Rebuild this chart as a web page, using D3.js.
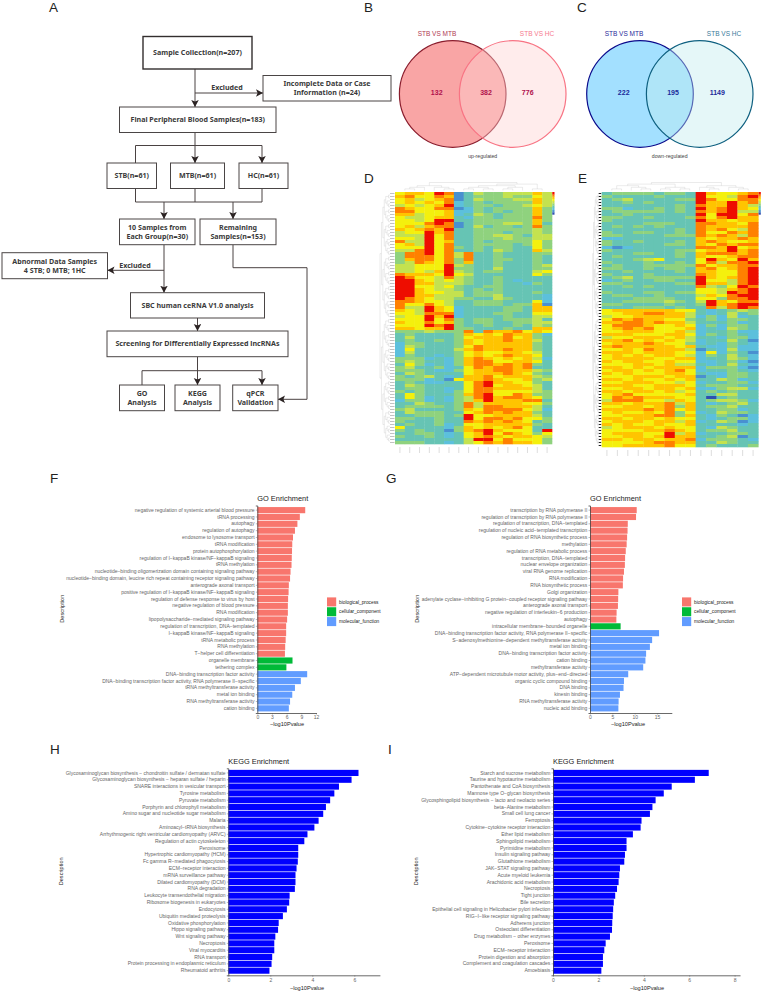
<!DOCTYPE html>
<html><head><meta charset="utf-8">
<script src="https://cdn.jsdelivr.net/npm/d3@7"></script>
<style>html,body{margin:0;padding:0;background:#fff}svg{display:block}</style>
</head><body><svg id="c" width="764" height="992" viewBox="0 0 764 992"></svg>
<script>
// ---------- data ----------
const flowLabels = [
 ["Sample Collection(n=207)"],["Incomplete Data or Case","Information  (n=24)"],["Final Peripheral Blood Samples(n=183)"],
 ["STB(n=61)"],["MTB(n=61)"],["HC(n=61)"],["10 Samples from","Each Group(n=30)"],["Remaining","Samples(n=153)"],
 ["Abnormal Data Samples","4 STB; 0 MTB; 1HC"],["SBC human ceRNA V1.0 analysis"],["Screening for Differentially Expressed lncRNAs"],
 ["GO","Analysis"],["KEGG","Analysis"],["qPCR","Validation"]];
const vennUp = [132,382,776];
const vennDown = [222,195,1149];
const vennNames = ["STB VS MTB","STB VS HC"];

const heatD = [
"6776981354455575","7866871344454465","6756781354445575","6767682343444475","5656792344344565","8766881243444474",
"8866672243434474","7756672354344474","6556773244344484","6656993344444474","6668981344455473","6757881353443484",
"7678793344444454","5669783344434454","5559683344554355","6659683344454455","8559673343444464","6759683344443464",
"6669684343443364","5589683343543375","4889685833433344","4888685833433343","4788684833443343","4587684733433343",
"5566695433433345","5566694433533344","5565795434433356","8777696533333364","9866585433433333","9976565433432333",
"9977555433433243","9966564334433333","9976554343433333","9976655344433343","9977555344533332","9876554433543332",
"8876653344433362","8668653344434471","8559762333344377","7659762333344377","6658882333443366","5669792333343355",
"6669684344344453","7668674344334455","6669894334334354","7767794433343377","4445444838778676","3433334767687742",
"3533334677786743","3433434767787753","2443334767777743","2543334687777743","2633335787787743","2533334676677653",
"2433234676787763","4442324787676752","4543324788667763","3642324788787843","4533423687887833","4443224677887754",
"3543333677787643","4345323778677754","4442316778766745","3432233689776643","3543333689677653","3443323688777753",
"4343324688666654","3643334789668744","3642324589788764","2442324579777883","3354334857777664","3444434858877753",
"4533334768888652","3544433678787743","3344434966777753","4433433968878664","4333433878787634","3433423667777743",
"6333324767678633","4343314789766639","3344323679687646","4334323678767765","3333333599686664","4443323568787764"
].map(s=>s.split("").map(Number));
const heatE = [
"344443443976678","433334333966589","345333344986688","334343333977978","333333343877975","442334343978976",
"344444343878955","334333333969968","443343334868977","433333333977677","333344433887768","343434333877778",
"333333343878658","433443343866878","443333444878758","223333333767787","433433343787667","433333443768788",
"212333333887967","433333344677978","333443343788878","343333343766788","333456333697697","433343343685889",
"343344444867788","443343443786789","334333343776689","433343333876689","345344444976789","234334433966589",
"443333344977589","334343333854698","333333333665789","433344344665989","344334333576899","333444433664889",
"334444543597688","443333433497899","333444343385898","677777766323454","667788775323534","566777775242523",
"687877664342443","778878775333423","688876676242443","678786667232543","667776675233422","777666776243432",
"566777675332442","778676765233531","677787664232432","787777767322422","667687775132522","777677766262431",
"676767765243532","677776677233542","767766766223421","666776755323532","776767777244421","677676786233432",
"767666776322443","666777677132443","776766767335423","667776656233442","777667776344433","667767767224552",
"776776756343433","678666667335533","687877766303433","588866576345542","776777857323453","667767847344533",
"777787867334423","676676846235443","667778847324312","776776766323442","677767757235412","767667667333323",
"567776766325433","666677876344533","677766957233443","667767977334513","776776778244432","666678877335433",
"667777866343334"
].map(s=>s.split("").map(Number));
const heatScaleStops = ["#2f4fb0","#4a90d0","#5cc0dc","#66c4b4","#8fd27e","#c4e250","#f4f010","#ffc400","#ff8000","#ee0c00"];

const goF = ["negative regulation of systemic arterial blood pressure","tRNA processing","autophagy","regulation of autophagy","endosome to lysosome transport","tRNA modification","protein autophosphorylation","regulation of I−kappaB kinase/NF−kappaB signaling","tRNA methylation","nucleotide−binding oligomerization domain containing signaling pathway","nucleotide−binding domain, leucine rich repeat containing receptor signaling pathway","anterograde axonal transport","positive regulation of I−kappaB kinase/NF−kappaB signaling","regulation of defense response to virus by host","negative regulation of blood pressure","RNA modification","lipopolysaccharide−mediated signaling pathway","regulation of transcription, DNA−templated","I−kappaB kinase/NF−kappaB signaling","tRNA metabolic process","RNA methylation","T−helper cell differentiation","organelle membrane","tethering complex","DNA−binding transcription factor activity","DNA−binding transcription factor activity, RNA polymerase II−specific","tRNA methyltransferase activity","metal ion binding","RNA methyltransferase activity","cation binding"];
const goFValues = [9.8,8.7,8.2,7.7,7.3,7.15,7.1,7.05,7.0,6.8,6.7,6.45,6.4,6.3,6.25,6.25,6.1,5.9,5.9,5.8,5.7,5.65,7.2,5.95,10.2,8.9,7.7,7.15,6.7,6.45];
const goFGroups = [22,2,6];
const goG = ["transcription by RNA polymerase II","regulation of transcription by RNA polymerase II","regulation of transcription, DNA−templated","regulation of nucleic acid−templated transcription","regulation of RNA biosynthetic process","methylation","regulation of RNA metabolic process","transcription, DNA−templated","nuclear envelope organization","viral RNA genome replication","RNA modification","RNA biosynthetic process","Golgi organization","adenylate cyclase−inhibiting G protein−coupled receptor signaling pathway","anterograde axonal transport","negative regulation of interleukin−6 production","autophagy","intracellular membrane−bounded organelle","DNA−binding transcription factor activity, RNA polymerase II−specific","S−adenosylmethionine−dependent methyltransferase activity","metal ion binding","DNA−binding transcription factor activity","cation binding","methyltransferase activity","ATP−dependent microtubule motor activity, plus−end−directed","organic cyclic compound binding","DNA binding","kinesin binding","RNA methyltransferase activity","nucleic acid binding"];
const goGValues = [10.45,10.3,8.45,8.4,8.3,8.2,8.0,7.85,7.8,7.6,7.4,7.35,6.35,6.3,6.25,5.95,5.9,6.85,15.45,13.9,13.4,12.55,12.4,11.9,8.55,7.6,7.5,6.7,6.4,6.35];
const goGGroups = [17,1,12];
const goLegend = ["biological_process","cellular_component","molecular_function"];
const goColors = ["#F8766D","#00BA38","#619CFF"];
const keggH = ["Glycosaminoglycan biosynthesis − chondroitin sulfate / dermatan sulfate","Glycosaminoglycan biosynthesis − heparan sulfate / heparin","SNARE interactions in vesicular transport","Tyrosine metabolism","Pyruvate metabolism","Porphyrin and chlorophyll metabolism","Amino sugar and nucleotide sugar metabolism","Malaria","Aminoacyl−tRNA biosynthesis","Arrhythmogenic right ventricular cardiomyopathy (ARVC)","Regulation of actin cytoskeleton","Peroxisome","Hypertrophic cardiomyopathy (HCM)","Fc gamma R−mediated phagocytosis","ECM−receptor interaction","mRNA surveillance pathway","Dilated cardiomyopathy (DCM)","RNA degradation","Leukocyte transendothelial migration","Ribosome biogenesis in eukaryotes","Endocytosis","Ubiquitin mediated proteolysis","Oxidative phosphorylation","Hippo signaling pathway","Wnt signaling pathway","Necroptosis","Viral myocarditis","RNA transport","Protein processing in endoplasmic reticulum","Rheumatoid arthritis"];
const keggHValues = [6.2,5.87,5.27,5.05,4.85,4.65,4.52,4.3,4.1,3.77,3.62,3.33,3.33,3.31,3.25,3.2,3.2,3.17,2.92,2.9,2.79,2.6,2.4,2.37,2.24,2.19,2.19,2.09,2.06,1.96];
const keggI = ["Starch and sucrose metabolism","Taurine and hypotaurine metabolism","Pantothenate and CoA biosynthesis","Mannose type O−glycan biosynthesis","Glycosphingolipid biosynthesis − lacto and neolacto series","beta−Alanine metabolism","Small cell lung cancer","Ferroptosis","Cytokine−cytokine receptor interaction","Ether lipid metabolism","Sphingolipid metabolism","Pyrimidine metabolism","Insulin signaling pathway","Glutathione metabolism","JAK−STAT signaling pathway","Acute myeloid leukemia","Arachidonic acid metabolism","Necroptosis","Tight junction","Bile secretion","Epithelial cell signaling in Helicobacter pylori infection","RIG−I−like receptor signaling pathway","Adherens junction","Osteoclast differentiation","Drug metabolism − other enzymes","Peroxisome","ECM−receptor interaction","Protein digestion and absorption","Complement and coagulation cascades","Amoebiasis"];
const keggIValues = [6.86,6.25,5.23,4.88,4.52,4.38,4.27,3.9,3.86,3.52,3.24,3.24,3.17,3.14,2.95,2.92,2.89,2.82,2.74,2.68,2.65,2.63,2.61,2.6,2.51,2.32,2.26,2.2,2.2,2.13];

// ---------- layout ----------
const svg = d3.select("#c");
const SANS = "'Liberation Sans',Arial,sans-serif";
const FLOW = "'Noto Sans',sans-serif";
const defs = svg.append("defs");
defs.append("marker").attr("id","arr").attr("markerUnits","userSpaceOnUse").attr("markerWidth",8).attr("markerHeight",8)
  .attr("viewBox","0 0 8 8").attr("refX",7).attr("refY",3.75).attr("orient","auto")
  .append("path").attr("d","M0,0 L7,3.75 L0,7.5 L1.6,3.75 Z").attr("fill","#2b2323");
defs.append("filter").attr("id","soft").attr("x","-2%").attr("y","-2%").attr("width","104%").attr("height","104%")
  .append("feGaussianBlur").attr("stdDeviation",0.55);

// panel letters
[["A",49,12],["B",364,12],["C",577,12],["D",364,183],["E",578,183],["F",50,483],["G",386,483],["H",50,754],["I",388,754]]
 .forEach(([t,x,y])=>svg.append("text").attr("x",x).attr("y",y).attr("font-family",SANS).attr("font-size",13.5).attr("fill","#222").text(t));

// ---- A flow chart
const flowBoxes = [[143,36.5,252,69],[263,75.5,391,101],[119.5,107,276,132.5],[107,163,156.5,188.5],[170.5,163,224.5,188.5],[239,163,288,188.5],
 [119.5,219,195,244.7],[200,219,276,244.7],[2,252.7,107.5,278.7],[130.5,292.7,264.5,318],[107,331,288,356.7],[119.5,385,164.5,410.7],[175,385,220,410.7],[232.7,385,278,410.7]];
const fg = svg.append("g");
const lines = [
 {p:[[195,69],[195,107]],a:1},{p:[[195,93],[263,93]],a:1},
 {p:[[195,132.5],[195,163]],a:1},{p:[[135.5,163],[135.5,145.5],[262,145.5],[262,163]],a:1},
 {p:[[135.5,188.5],[135.5,202],[262,202],[262,188.5]]},{p:[[195,188.5],[195,202]]},
 {p:[[164,202],[164,219]],a:1},{p:[[233,202],[233,219]],a:1},
 {p:[[164,244.7],[164,292.7]],a:1},{p:[[164,270.3],[107.5,270.3]],a:1},
 {p:[[233,244.7],[233,267.7],[307,267.7],[307,399.3],[278,399.3]],a:1},
 {p:[[197.5,318],[197.5,331]],a:1},{p:[[197.5,356.7],[197.5,385]],a:1},
 {p:[[142,385],[142,370.7],[262,370.7],[262,385]],a:1}];
const lg = d3.line();
fg.selectAll("path.l").data(lines).join("path").attr("d",d=>lg(d.p)).attr("fill","none").attr("stroke","#4a4242").attr("stroke-width",1)
  .attr("marker-end",d=>d.a?"url(#arr)":null);
flowBoxes.forEach((b,i)=>{
  fg.append("rect").attr("x",b[0]).attr("y",b[1]).attr("width",b[2]-b[0]).attr("height",b[3]-b[1]).attr("fill","#fff")
    .attr("stroke",i==0?"#332e2e":"#4a4545").attr("stroke-width",i==0?1.4:1);
  const L = flowLabels[i], cx=(b[0]+b[2])/2, cy=(b[1]+b[3])/2;
  L.forEach((t,j)=>fg.append("text").attr("x",cx).attr("y",cy+(j-(L.length-1)/2)*8.8).attr("dy","0.35em").attr("text-anchor","middle")
    .attr("font-family",FLOW).attr("font-weight",700).attr("font-size",7.1).attr("fill","#3a3a3a").text(t));
});
[["Excluded",227,88],["Excluded",135,266]].forEach(([t,x,y])=>fg.append("text").attr("x",x).attr("y",y).attr("dy","0.35em").attr("text-anchor","middle")
    .attr("font-family",FLOW).attr("font-weight",700).attr("font-size",7.1).attr("fill","#3a3a3a").text(t));

// ---- B, C venn
function venn(o){
  const g = svg.append("g"), r=53.3, cy=94;
  g.append("circle").attr("cx",o.x1).attr("cy",cy).attr("r",r).attr("fill",o.f1).attr("stroke",o.s1).attr("stroke-width",1.2);
  g.append("circle").attr("cx",o.x2).attr("cy",cy).attr("r",r).attr("fill",o.f2).attr("stroke",o.s2).attr("stroke-width",1.2);
  o.vals.forEach((v,i)=>g.append("text").attr("x",o.nx[i]).attr("y",92.7).attr("dy","0.35em").attr("text-anchor","middle")
     .attr("font-family",SANS).attr("font-weight",700).attr("font-size",7).attr("fill",o.nc).text(v));
  vennNames.forEach((t,i)=>g.append("text").attr("x",o.tx[i]).attr("y",34).attr("dy","0.35em").attr("text-anchor","middle")
     .attr("font-family",SANS).attr("font-size",6.5).attr("fill",o.tc[i]).text(t));
  g.append("text").attr("x",o.cap[1]).attr("y",156).attr("dy","0.35em").attr("text-anchor","middle").attr("font-family",SANS).attr("font-size",5.2).attr("fill","#444").text(o.cap[0]);
}
venn({x1:452.7,x2:512.7,f1:"#f9a5a5",s1:"#8a1c2c",f2:"rgba(255,209,209,.42)",s2:"#f87484",vals:vennUp,nx:[436.7,486,527.7],nc:"#b0104c",tx:[437,537],tc:["#b03a52","#f67a8e"],cap:["up-regulated",482.7]});
venn({x1:640,x2:699.7,f1:"#a3e0ff",s1:"#0a0a8c",f2:"rgba(193,236,238,.42)",s2:"#0e6080",vals:vennDown,nx:[623.7,673,717.3],nc:"#1c2a9a",tx:[624,724],tc:["#2a2a9a","#3a7a9a"],cap:["down-regulated",669.7]});

// ---- D, E heat maps
const heatColor = d3.scaleLinear().domain(d3.range(10)).range(heatScaleStops);
function balanced(a,b){ if(b-a<=1) return {}; const m=Math.floor((a+b)/2); return {children:[balanced(a,m),balanced(m,b)]}; }
function dendro(g,tree,w,h,x0,y0,horizontal){
  const root=d3.hierarchy(tree,d=>d.children);
  d3.cluster().separation(()=>1).size([w,h])(root);
  const path = horizontal ? (l=>`M${x0+l.source.y},${y0+l.source.x}V${y0+l.target.x}H${x0+l.target.y}`)
                          : (l=>`M${x0+l.source.x},${y0+l.source.y}H${x0+l.target.x}V${y0+l.target.y}`);
  g.selectAll(null).data(root.links()).join("path").attr("d",path).attr("fill","none").attr("stroke","#c4c4c4").attr("stroke-width",.35);
}
function heat(m,o){
  const g=svg.append("g"), rows=d3.range(m.length), cols=d3.range(m[0].length);
  const x=d3.scaleBand().domain(cols).range([o.x0,o.x1]), y=d3.scaleBand().domain(rows).range([o.y0,o.y1]);
  const cells=g.append("g").attr("filter","url(#soft)");
  m.forEach((row,i)=>row.forEach((v,j)=>cells.append("rect").attr("x",x(j)).attr("y",y(i)).attr("width",x.bandwidth()+.3).attr("height",y.bandwidth()+.3).attr("fill",heatColor(v))));
  // row label marks
  rows.forEach(i=>g.append("line").attr("x1",o.x0-o.lab).attr("x2",o.x0-.5).attr("y1",y(i)+1.5).attr("y2",y(i)+1.5).attr("stroke",o.labC).attr("stroke-width",o.labW));
  // column label marks
  cols.forEach(j=>g.append("line").attr("x1",x(j)+x.bandwidth()/2).attr("x2",x(j)+x.bandwidth()/2).attr("y1",o.y1+3).attr("y2",o.y1+9).attr("stroke","#bbb").attr("stroke-width",.5));
  // colour key
  const key=d3.scaleBand().domain(d3.range(10)).range([o.y0,o.y0+22.5]);
  d3.range(10).forEach(v=>g.append("rect").attr("x",o.x1+.3).attr("y",key(9-v)).attr("width",2.2).attr("height",key.bandwidth()+.2).attr("fill",heatColor(v)));
  dendro(g,o.colTree,x.step()*(cols.length-1),8,o.x0+x.step()/2,o.y0-9.5,false);
  dendro(g,balanced(0,m.length),y.step()*(rows.length-1),o.dw,o.x0-o.lab-o.dw,o.y0+y.step()/2,true);
}
const leaf={};
const pair={children:[leaf,leaf]}, tri={children:[leaf,pair]};
heat(heatD,{x0:395,x1:552,y0:192,y1:444,lab:5,labC:"#a8a8a8",labW:.7,dw:10,
  colTree:{children:[{children:[{children:[pair,leaf]},tri]},{children:[{children:[{children:[pair,pair]},{children:[pair,leaf]}]},{children:[leaf,leaf]}]}]}});
heat(heatE,{x0:601.7,x1:758.3,y0:192,y1:447,lab:3,labC:"#222",labW:1,dw:6,
  colTree:{children:[{children:[{children:[pair,tri]},{children:[pair,pair]}]},{children:[tri,tri]}]}});

// ---- bar panels
function bars(o){
  const g=svg.append("g");
  const x=d3.scaleLinear().domain([0,o.xMax]).range([o.x0,o.x0+o.pxPerUnit*o.xMax]);
  const y=d3.scaleBand().domain(o.names).range([o.top,o.bottom]).paddingInner(.1).paddingOuter(.23);
  g.selectAll("rect").data(o.names).join("rect").attr("x",x(0)).attr("y",d=>y(d)).attr("width",(d,i)=>x(o.values[i])-x(0)).attr("height",y.bandwidth()).attr("fill",(d,i)=>o.color(i));
  const ay=g.append("g").attr("transform",`translate(${x(0)},0)`).call(d3.axisLeft(y).tickSize(1.5).tickPadding(1.2));
  const ax=g.append("g").attr("transform",`translate(0,${o.bottom})`).call(d3.axisBottom(x).tickValues(o.ticks).tickFormat(d3.format("d")).tickSize(1.5).tickPadding(1.2).tickSizeOuter(0));
  [ax,ay].forEach(a=>{a.select(".domain").attr("stroke","#444").attr("stroke-width",.8);a.selectAll(".tick line").attr("stroke","#555").attr("stroke-width",.4);
    a.selectAll("text").attr("font-family",SANS).attr("font-size",5).attr("fill","#666");});
  g.append("text").attr("x",o.x0).attr("y",o.titleY).attr("font-family",SANS).attr("font-size",7.4).attr("fill","#222").text(o.title);
  g.append("text").attr("x",o.xlab).attr("y",o.xlabY).attr("text-anchor","middle").attr("font-family",SANS).attr("font-size",5.6).attr("fill","#222").text("−log10Pvalue");
  g.append("text").attr("transform",`translate(${o.ylab},${(o.top+o.bottom)/2-.5}) rotate(-90)`).attr("text-anchor","middle").attr("font-family",SANS).attr("font-size",5.6).attr("fill","#222").text("Description");
  if(o.legendX){ const l=d3.scaleBand().domain(goLegend).range([597,626.5]);
    goLegend.forEach((t,i)=>{g.append("rect").attr("x",o.legendX).attr("y",l(t)+.4).attr("width",9.2).attr("height",l.bandwidth()-.8).attr("fill",goColors[i]);
      g.append("text").attr("x",o.legendX+12).attr("y",l(t)+l.bandwidth()/2).attr("dy","0.35em").attr("font-family",SANS).attr("font-size",4.8).attr("fill","#222").text(t);});}
}
const grp=(sizes)=>{const a=[];sizes.forEach((n,k)=>{for(let i=0;i<n;i++)a.push(goColors[k])});return i=>a[i];};
bars({names:goF,values:goFValues,color:grp(goFGroups),x0:257.3,pxPerUnit:4.89,xMax:12.1,ticks:[0,3,6,9,12],top:505.5,bottom:713,title:"GO Enrichment",titleY:501,xlab:287,xlabY:726,ylab:64,legendX:327});
bars({names:goG,values:goGValues,color:grp(goGGroups),x0:590,pxPerUnit:4.47,xMax:18.3,ticks:[0,5,10,15],top:505.5,bottom:713,title:"GO Enrichment",titleY:501,xlab:628,xlabY:726,ylab:419,legendX:682});
bars({names:keggH,values:keggHValues,color:()=>"#0000ff",x0:228.3,pxPerUnit:21,xMax:7.22,ticks:[0,2,4,6],top:768.3,bottom:975.3,title:"KEGG Enrichment",titleY:764,xlab:307,xlabY:989.5,ylab:63,legendX:0});
bars({names:keggI,values:keggIValues,color:()=>"#0000ff",x0:553,pxPerUnit:22.7,xMax:8.24,ticks:[0,2,4,6,8],top:768.3,bottom:975.3,title:"KEGG Enrichment",titleY:764,xlab:647,xlabY:989.5,ylab:418,legendX:0});
</script></body></html>
